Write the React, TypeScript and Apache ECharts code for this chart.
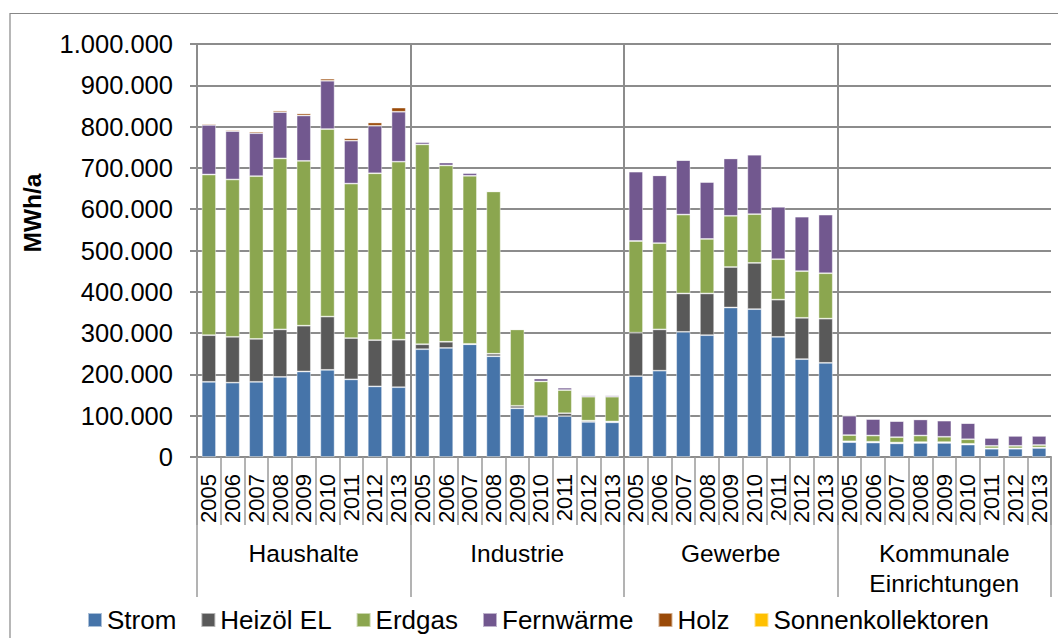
import React, { useEffect, useRef } from "react";
import * as echarts from "echarts";

// Sectors (outer category level) and years (inner level)
const sectors = ["Haushalte", "Industrie", "Gewerbe", "Kommunale\nEinrichtungen"];
const years = ["2005", "2006", "2007", "2008", "2009", "2010", "2011", "2012", "2013"];

// Final energy consumption in MWh/a, 9 years per sector in the order above
const strom = [
  182000, 180000, 182000, 194000, 207000, 211000, 188000, 171000, 169000,
  261000, 264000, 273000, 244000, 118000, 98000, 99000, 85000, 84000,
  196000, 209000, 303000, 295000, 362000, 358000, 291000, 237000, 228000,
  36000, 35000, 33000, 34000, 34000, 30000, 20000, 20000, 22000,
];
const heizoel = [
  113000, 111000, 104000, 115000, 111000, 129000, 100000, 112000, 115000,
  12000, 15000, 1000, 6000, 6000, 1000, 7000, 3000, 2000,
  105000, 100000, 93000, 101000, 98000, 112000, 90000, 100000, 107000,
  2000, 2000, 2000, 2000, 2000, 2000, 1000, 1000, 1000,
];
const erdgas = [
  389000, 381000, 394000, 414000, 399000, 454000, 374000, 404000, 431000,
  484000, 427000, 407000, 393000, 185000, 84000, 56000, 58000, 60000,
  222000, 209000, 191000, 132000, 124000, 118000, 98000, 113000, 110000,
  15000, 15000, 13000, 16000, 13000, 11000, 6000, 6000, 6000,
];
const fernwaerme = [
  120000, 117000, 104000, 112000, 110000, 117000, 104000, 115000, 121000,
  6000, 7000, 7000, 1000, 1000, 7000, 6000, 4000, 4000,
  168000, 164000, 132000, 138000, 139000, 144000, 127000, 132000, 142000,
  47000, 40000, 39000, 39000, 39000, 39000, 19000, 24000, 22000,
];
const holz = [
  3000, 3000, 4000, 4000, 5000, 5000, 6000, 8000, 10000,
  0, 0, 0, 0, 0, 0, 0, 0, 0,
  0, 0, 0, 0, 0, 0, 0, 0, 0,
  1000, 1000, 1000, 1000, 1000, 1000, 2000, 2000, 2000,
];
const sonnenkollektoren = [
  1000, 1000, 1000, 1000, 1000, 2000, 1000, 1000, 1000,
  0, 0, 0, 0, 0, 0, 0, 0, 0,
  2000, 2000, 2000, 2000, 2000, 2000, 2000, 2000, 2000,
  1000, 1000, 1000, 1000, 1000, 1000, 1000, 1000, 1000,
];

const seriesDefs = [
  { name: "Strom", data: strom, color: "#4674A9" },
  { name: "Heizöl EL", data: heizoel, color: "#595959" },
  { name: "Erdgas", data: erdgas, color: "#8BA64F" },
  { name: "Fernwärme", data: fernwaerme, color: "#72588F" },
  { name: "Holz", data: holz, color: "#9A4A08" },
  { name: "Sonnenkollektoren", data: sonnenkollektoren, color: "#FFC000" },
];

const FONT = "Liberation Sans, Arial, sans-serif";
const GRID_GREY = "#8C8C8C";

const formatDe = (v: number) => String(v).replace(/\B(?=(\d{3})+(?!\d))/g, ".");

export default function App() {
  const ref = useRef<HTMLDivElement>(null);

  useEffect(() => {
    if (!ref.current) return;
    const chart = echarts.init(ref.current, null, { renderer: "svg" });

    const yearCategories = sectors.flatMap(() => years);

    chart.setOption({
      animation: false,
      backgroundColor: "#ffffff",
      textStyle: { fontFamily: FONT, color: "#000" },
      graphic: [
        {
          type: "rect",
          left: 7.5,
          top: 11,
          shape: { x: 0, y: 0, width: 1200, height: 800 },
          style: { fill: "none", stroke: "#878787", lineWidth: 1.2 },
          silent: true,
        },
      ],
      grid: { left: 197, right: 7, top: 44, bottom: 181, containLabel: false },
      legend: {
        left: 87,
        top: 607,
        padding: 0,
        icon: "rect",
        itemWidth: 14,
        itemHeight: 14,
        itemGap: 24,
        textStyle: { fontFamily: FONT, fontSize: 26, color: "#000" },
        data: seriesDefs.map((s) => s.name),
      },
      xAxis: [
        {
          type: "category",
          data: yearCategories,
          position: "bottom",
          axisLine: { show: true, lineStyle: { color: GRID_GREY, width: 2 } },
          axisTick: { show: true, interval: 0, length: 68, lineStyle: { color: "#9a9a9a", width: 1.5 } },
          axisLabel: {
            interval: 0,
            rotate: 90,
            margin: 17,
            fontSize: 22,
            fontFamily: FONT,
            color: "#000",
          },
          splitLine: { show: false },
        },
        {
          type: "category",
          data: sectors,
          position: "bottom",
          axisLine: { show: false },
          axisTick: { show: true, interval: 0, length: 140, lineStyle: { color: "#9a9a9a", width: 1.5 } },
          axisLabel: {
            interval: 0,
            margin: 81,
            fontSize: 24.5,
            lineHeight: 30,
            fontFamily: FONT,
            color: "#000",
            verticalAlign: "top",
          },
          splitLine: {
            show: true,
            interval: 0,
            showMinLine: false,
            showMaxLine: false,
            lineStyle: { color: GRID_GREY, width: 2 },
          },
        },
      ],
      yAxis: {
        type: "value",
        min: 0,
        max: 1000000,
        interval: 100000,
        name: "MWh/a",
        nameLocation: "middle",
        nameGap: 152,
        nameRotate: 90,
        nameTextStyle: {
          fontFamily: FONT,
          fontSize: 24.5,
          fontWeight: "bold",
          color: "#000",
          padding: [0, 0, 0, 75],
        },
        axisLine: { show: true, lineStyle: { color: GRID_GREY, width: 2 } },
        axisTick: { show: true, length: 7, lineStyle: { color: GRID_GREY, width: 2 } },
        axisLabel: {
          margin: 24,
          fontSize: 25.5,
          fontFamily: FONT,
          color: "#000",
          formatter: (v: number) => formatDe(v),
        },
        splitLine: { show: true, lineStyle: { color: GRID_GREY, width: 2 } },
      },
      series: seriesDefs.map((s) => ({
        name: s.name,
        type: "bar",
        stack: "total",
        xAxisIndex: 0,
        barWidth: "60%",
        data: s.data,
        itemStyle: {
          color: s.color,
          borderColor: "rgba(255,255,255,0.55)",
          borderWidth: 0.8,
        },
        emphasis: { disabled: true },
      })),
    });

    return () => chart.dispose();
  }, []);

  return (
    <div
      ref={ref}
      style={{ position: "fixed", left: 0, top: 0, width: 1058, height: 638, background: "#fff" }}
    />
  );
}
